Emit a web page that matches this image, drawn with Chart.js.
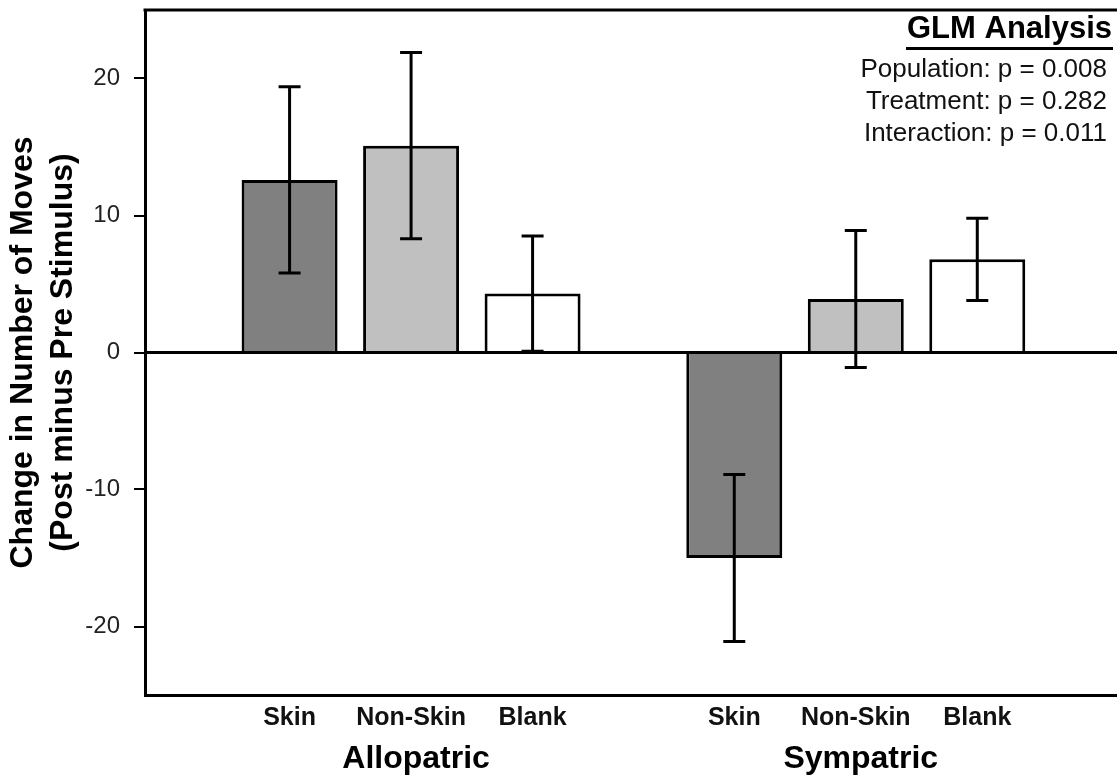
<!DOCTYPE html>
<html>
<head>
<meta charset="utf-8">
<script src="https://cdn.jsdelivr.net/npm/chart.js@4.4.1/dist/chart.umd.min.js"></script>
<style>
  html, body { margin: 0; padding: 0; background: #fff; }
  #wrap { width: 1117px; height: 778px; position: relative; }
</style>
</head>
<body>
<div id="wrap"><canvas id="movesChart"></canvas></div>
<script>
const groups = ['Allopatric', 'Sympatric'];
const treatments = ['Skin', 'Non-Skin', 'Blank'];
const allopatricMeans = [12.6, 15.1, 4.3];
const allopatricErrors = [6.8, 6.8, 4.2];
const sympatricMeans = [-15.0, 3.9, 6.8];
const sympatricErrors = [6.1, 5.0, 3.0];
const yTicks = [-20, -10, 0, 10, 20];
const glmTitle = 'GLM Analysis';
const glmLines = ['Population: p = 0.008', 'Treatment: p = 0.282', 'Interaction: p = 0.011'];

const means = [allopatricMeans, sympatricMeans];
const errors = [allopatricErrors, sympatricErrors];
const treatmentColors = ['#808080', '#c0c0c0', '#ffffff'];
const GROUP_STEP = 3.66; // distance between the two groups, in bar slots

const points = [];
const barErrors = [];
const barColors = [];
const tickLabels = [];
groups.forEach((g, gi) => {
    treatments.forEach((t, ti) => {
        points.push({ x: gi * GROUP_STEP + ti, y: means[gi][ti] });
        barErrors.push(errors[gi][ti]);
        barColors.push(treatmentColors[ti]);
        tickLabels.push(t);
    });
});

const extras = {
    id: 'extras',
    afterDatasetsDraw(chart) {
        const { ctx, chartArea, scales } = chart;
        const y = scales.y;
        ctx.save();
        ctx.strokeStyle = '#000';
        ctx.lineWidth = 3;
        // frame top
        ctx.beginPath();
        ctx.moveTo(chartArea.left - 1.5, chartArea.top);
        ctx.lineTo(chartArea.right, chartArea.top);
        ctx.stroke();
        // zero line
        const y0 = y.getPixelForValue(0);
        ctx.beginPath();
        ctx.moveTo(chartArea.left, y0);
        ctx.lineTo(chartArea.right, y0);
        ctx.stroke();
        // error bars
        const meta = chart.getDatasetMeta(0);
        meta.data.forEach((bar, i) => {
            const v = points[i].y;
            const top = y.getPixelForValue(v + barErrors[i]);
            const bot = y.getPixelForValue(v - barErrors[i]);
            ctx.beginPath();
            ctx.moveTo(bar.x, top);
            ctx.lineTo(bar.x, bot);
            ctx.moveTo(bar.x - 11, top);
            ctx.lineTo(bar.x + 11, top);
            ctx.moveTo(bar.x - 11, bot);
            ctx.lineTo(bar.x + 11, bot);
            ctx.stroke();
        });
        ctx.restore();
    },
    afterDraw(chart) {
        const { ctx, chartArea, scales } = chart;
        ctx.save();
        ctx.fillStyle = '#000';
        // group labels
        ctx.font = 'bold 32px "Liberation Sans", Arial, sans-serif';
        ctx.textAlign = 'center';
        ctx.textBaseline = 'alphabetic';
        groups.forEach((g, gi) => {
            const cx = scales.x.getPixelForValue(gi * GROUP_STEP + 1);
            ctx.fillText(g, cx + 5, chartArea.bottom + 73);
        });
        // GLM box
        const rx = chartArea.right - 5;
        ctx.textAlign = 'right';
        ctx.font = 'bold 31px "Liberation Sans", Arial, sans-serif';
        ctx.fillText(glmTitle, rx, chartArea.top + 28);
        const w = ctx.measureText(glmTitle).width;
        ctx.fillRect(rx - w - 1, chartArea.top + 37, w + 2, 3);
        ctx.font = '26px "Liberation Sans", Arial, sans-serif';
        ctx.fillStyle = '#111';
        glmLines.forEach((line, i) => {
            ctx.fillText(line, rx - 5, chartArea.top + 67 + i * 32);
        });
        ctx.restore();
    }
};

const ctx = document.getElementById('movesChart').getContext('2d');
const movesChart = new Chart(ctx, {
    type: 'bar',
    data: {
        datasets: [{
            data: points,
            backgroundColor: barColors,
            borderColor: '#000',
            borderWidth: 3,
            borderSkipped: 'start',
            categoryPercentage: 1,
            barPercentage: 0.79
        }]
    },
    options: {
        responsive: true,
        maintainAspectRatio: false,
        animation: false,
        layout: { padding: { top: 10, left: 0, right: 0, bottom: 0 } },
        plugins: {
            legend: { display: false },
            tooltip: { enabled: false }
        },
        scales: {
            x: {
                type: 'linear',
                min: -1.19,
                max: 6.81,
                offset: false,
                grid: { display: false, drawTicks: false },
                border: { display: true, color: '#000', width: 3 },
                afterBuildTicks: axis => {
                    axis.ticks = points.map(p => ({ value: p.x }));
                },
                afterFit: axis => {
                    axis.height = 83;
                    axis.paddingLeft = 0;
                    axis.paddingRight = 0;
                },
                ticks: {
                    autoSkip: false,
                    maxRotation: 0,
                    padding: 8,
                    color: '#111',
                    font: { family: '"Liberation Sans", Arial, sans-serif', size: 25, weight: 'bold' },
                    callback: (value, index) => tickLabels[index]
                }
            },
            y: {
                min: -25,
                max: 25,
                grid: {
                    drawOnChartArea: false,
                    drawTicks: true,
                    tickLength: 11,
                    color: '#000',
                    lineWidth: 2
                },
                border: { display: true, color: '#000', width: 3 },
                afterBuildTicks: axis => {
                    axis.ticks = yTicks.map(v => ({ value: v }));
                },
                afterFit: axis => {
                    axis.width = 145;
                    axis.paddingTop = 0;
                    axis.paddingBottom = 0;
                },
                ticks: {
                    padding: 14,
                    color: '#222',
                    font: { family: '"Liberation Sans", Arial, sans-serif', size: 24 }
                },
                title: {
                    display: true,
                    text: ['Change in Number of Moves', '(Post minus Pre Stimulus)'],
                    color: '#000',
                    padding: { top: 3, bottom: 0 },
                    font: { family: '"Liberation Sans", Arial, sans-serif', size: 32, weight: 'bold', lineHeight: 1.25 }
                }
            }
        }
    },
    plugins: [extras]
});
</script>
</body>
</html>
